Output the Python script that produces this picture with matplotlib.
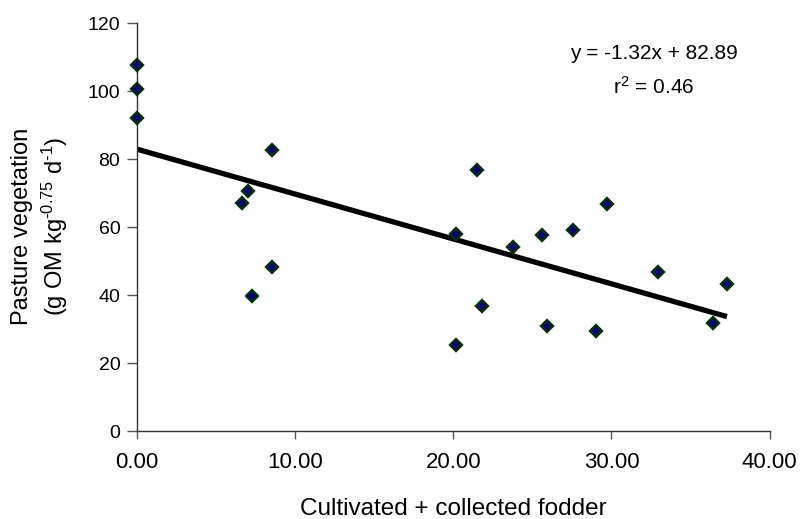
import matplotlib
matplotlib.use("Agg")
import matplotlib.pyplot as plt
import numpy as np

plt.rcParams['font.family'] = ['Liberation Sans', 'DejaVu Sans']
plt.rcParams['mathtext.fontset'] = 'custom'
plt.rcParams['mathtext.rm'] = 'Liberation Sans'
plt.rcParams['mathtext.it'] = 'Liberation Sans:italic'
plt.rcParams['mathtext.bf'] = 'Liberation Sans:bold'

# Data
fodder = [0.0, 0.0, 0.0, 6.65, 7.0, 7.24, 8.54, 8.54,
          20.15, 20.2, 21.5, 21.8, 23.8, 25.6, 25.95, 27.6,
          29.0, 29.7, 32.95, 36.4, 37.3]
pasture = [107.6, 100.5, 92.1, 67.1, 70.5, 39.8, 82.6, 48.1,
           58.0, 25.2, 76.9, 36.7, 54.2, 57.6, 30.9, 59.2,
           29.3, 66.9, 46.8, 31.9, 43.1]
slope = -1.32
intercept = 82.89
r2 = 0.46

x_ticks = [0, 10, 20, 30, 40]
x_tick_labels = ["0.00", "10.00", "20.00", "30.00", "40.00"]
y_ticks = [0, 20, 40, 60, 80, 100, 120]

W, H = 803, 519
fig = plt.figure(figsize=(W / 100, H / 100), dpi=100)
ax = fig.add_axes([137 / W, (H - 431) / H, (769.6 - 137) / W, (431 - 23) / H])

xf = np.array([0.0, max(fodder)])
ax.plot(xf, intercept + slope * xf, color='black', lw=3.8, solid_capstyle='butt', zorder=2)
ax.plot(fodder, pasture, linestyle='none', marker='D', markersize=6.6,
        markerfacecolor='#000080', markeredgecolor='#003300', markeredgewidth=1.7,
        zorder=3, clip_on=False)

ax.set_xlim(0, 40)
ax.set_ylim(0, 120)
ax.set_xticks(x_ticks)
ax.set_xticklabels(x_tick_labels)
ax.set_yticks(y_ticks)
for s in ['top', 'right']:
    ax.spines[s].set_visible(False)
for s in ['left', 'bottom']:
    ax.spines[s].set_color('#333333')
    ax.spines[s].set_linewidth(1.0)
ax.tick_params(axis='x', direction='out', length=6, width=1, color='#555555',
               labelsize=16, pad=9)
ax.tick_params(axis='y', direction='out', length=7, width=1, color='#555555',
               labelsize=14, pad=5)

ax.text(32.66, 110.9, "y = -1.32x + 82.89", ha='center', va='center', fontsize=15)
ax.text(32.66, 101.2, "r$^{2}$ = %.2f" % r2, ha='center', va='center', fontsize=15)

ax.set_xlabel("Cultivated + collected fodder", fontsize=17.5, labelpad=18)
fig.text(21.7 / W, 1 - 226 / H, "Pasture vegetation", rotation=90,
         ha='center', va='center', fontsize=17)
fig.text(55 / W, 1 - 226 / H, r"(g OM kg$^{\text{-}0.75}$ d$^{\text{-}1}$)", rotation=90,
         ha='center', va='center', fontsize=17)

fig.savefig("out.png", dpi=100)
